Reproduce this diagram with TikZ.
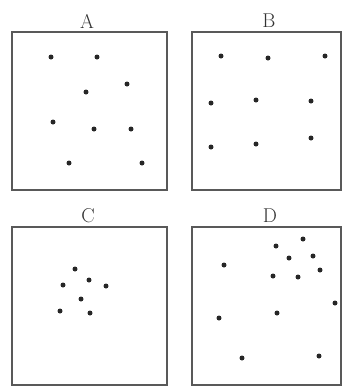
\documentclass[tikz,border=0pt]{standalone}
\begin{document}
\begin{tikzpicture}[x=1pt,y=-1pt,
  panel/.style={draw=black!65,line width=2.2pt},
  pt/.style={fill=black!85},
  lbl/.style={font=\fontsize{20}{20}\selectfont, text=black!80, inner sep=0pt, anchor=base}]
\useasboundingbox (0,0) rectangle (345,392);
% panels
\draw[panel] (12,32) rectangle (167,190);
\draw[panel] (192,32) rectangle (341,190);
\draw[panel] (12,227) rectangle (167,385);
\draw[panel] (192,227) rectangle (341,385);
% labels
\node[lbl] (la) at (87,28) {A};
\node[lbl] (lb) at (269,27) {B};
\node[lbl] (lc) at (88,222) {C};
\node[lbl] (ld) at (270,222) {D};
% A dots
\foreach \p in {(51,57),(97,57),(127,84),(86,92),(53,122),(94,129),(131,129),(69,163),(142,163)}
  \fill[pt] \p circle (2.5);
% B dots
\foreach \p in {(221,56),(268,58),(325,56),(211,103),(256,100),(311,101),(211,147),(256,144),(311,138)}
  \fill[pt] \p circle (2.5);
% C dots
\foreach \p in {(75,269),(89,280),(63,285),(106,286),(81,299),(60,311),(90,313)}
  \fill[pt] \p circle (2.5);
% D dots
\foreach \p in {(303,239),(276,246),(289,258),(313,256),(224,265),(273,276),(298,277),(320,270),(335,303),(277,313),(219,318),(242,358),(319,356)}
  \fill[pt] \p circle (2.5);
\end{tikzpicture}
\end{document}
